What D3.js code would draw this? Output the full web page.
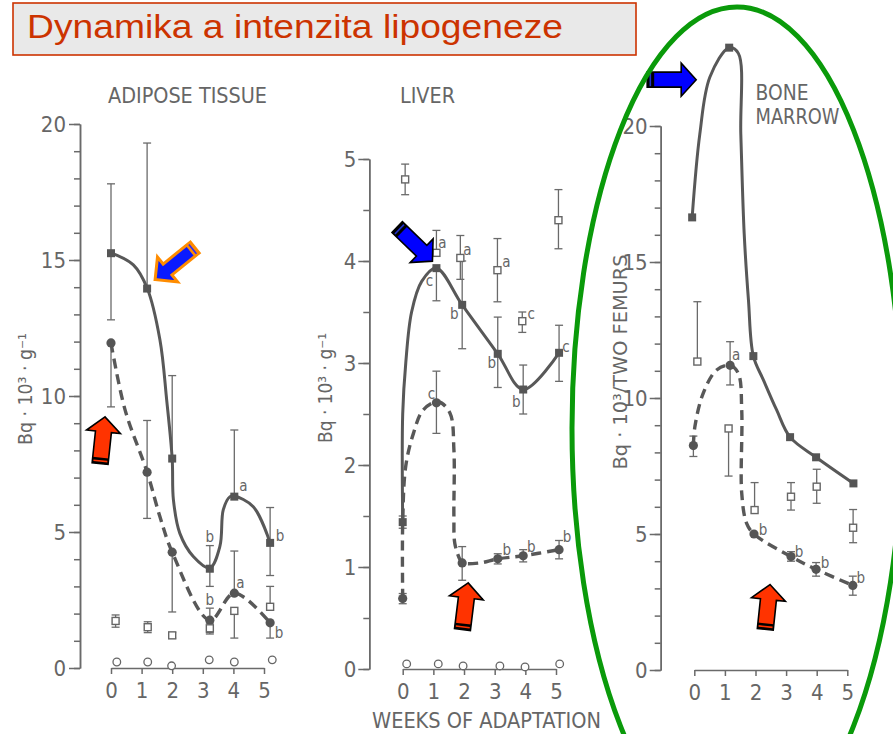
<!DOCTYPE html>
<html><head><meta charset="utf-8">
<script src="https://cdn.jsdelivr.net/npm/d3@7"></script>
<style>body{margin:0;background:#fff;}svg{display:block;}</style>
</head><body>
<svg id="c" width="893" height="734"></svg>
<script>
// ================= DATA =================
const weekTicks = [0, 1, 2, 3, 4, 5];
const tagsTitle = "Dynamika a intenzita lipogeneze";

// ---- Adipose tissue (Bq·10^3·g^-1) ----
const adiMajor = [0, 5, 10, 15, 20];
const adiMinor = d3.range(0, 21, 1);
const adiX      = [0.0, 1.18, 2.0, 3.23, 4.03, 5.2];
const adiSolid   = [15.25, 13.95, 7.7, 3.65, 6.3, 4.6];
const adiSolidHi = [17.8, 19.3, 10.75, 4.5, 8.75, 5.9];
const adiSolidLo = [12.8, null, null, 3.0, null, 3.4];
const adiSolidTag = [null, null, null, "b", "a", "b"];
const adiDash   = [11.95, 7.2, 4.26, 1.76, 2.75, 1.66];
const adiDashHi = [null, 9.1, null, 2.2, 4.3, null];
const adiDashLo = [9.6, 5.5, 2.06, 1.3, null, 1.1];
const adiDashTag = [null, null, null, "b", "a", "b"];
const adiSqX  = [0.15, 1.2, 2.0, 3.23, 4.03, 5.2];
const adiSq   = [1.73, 1.5, 1.2, 1.46, 2.1, 2.25];
const adiSqHi = [1.95, 1.7, 1.3, 1.65, null, 3.0];
const adiSqLo = [1.5, 1.3, 1.1, 1.25, 1.1, null];
const adiCircX = [0.19, 1.2, 1.98, 3.21, 4.03, 5.27];
const adiCirc  = [0.22, 0.22, 0.08, 0.3, 0.22, 0.3];
// drawn fitted curves (knots)
const adiSolidCurveX = [0, 0.73, 1.18, 1.6, 1.82, 2.0, 2.04, 2.25, 2.69, 3.23, 3.56, 3.67, 3.89, 4.03, 4.65, 5.2];
const adiSolidCurveY = [15.26, 14.82, 13.97, 12.06, 9.85, 7.68, 6.18, 4.95, 4.1, 3.68, 4.48, 5.82, 6.3, 6.32, 5.93, 4.6];
const adiDashCurveX = [0, 0.46, 1.18, 1.6, 2.0, 3.23, 4.03, 5.2];
const adiDashCurveY = [11.95, 9.49, 7.2, 5.56, 4.26, 1.76, 2.75, 1.66];

// ---- Liver (Bq·10^3·g^-1) ----
const livMajor = [0, 1, 2, 3, 4, 5];
const livMinor = d3.range(0, 5.01, 0.5);
const livX      = [0.0, 1.1, 1.94, 3.1, 3.93, 5.1];
const livSolid   = [1.44, 3.93, 3.57, 3.09, 2.74, 3.1];
const livSolidHi = [1.5, null, 4.0, 3.45, 2.98, 3.37];
const livSolidLo = [1.38, 3.61, 3.14, 2.76, 2.5, 2.82];
const livSolidTag = [null, "c", "b", "b", "b", "c"];
const livDash   = [0.69, 2.61, 1.04, 1.08, 1.11, 1.17];
const livDashHi = [0.74, 2.92, 1.2, 1.13, 1.17, 1.26];
const livDashLo = [0.64, 2.31, 0.87, 1.03, 1.05, 1.08];
const livDashTag = [null, "c", null, "b", "b", "b"];
const livSqX  = [0.08, 1.1, 1.88, 3.09, 3.9, 5.08];
const livSq   = [4.8, 4.08, 4.03, 3.91, 3.41, 4.4];
const livSqHi = [4.95, 4.3, 4.25, 4.22, 3.5, 4.7];
const livSqLo = [4.65, null, 3.82, 3.6, 3.3, 4.12];
const livSqTag = [null, "a", "a", "a", "c", null];
const livCircX = [0.13, 1.16, 1.97, 3.17, 3.99, 5.12];
const livCirc  = [0.05, 0.05, 0.03, 0.03, 0.02, 0.05];
const livSolidCurveX = [0, 0, 0.1, 0.29, 0.62, 1.1, 1.94, 3.1, 3.93, 5.1];
const livSolidCurveY = [1.44, 2.5, 3.0, 3.5, 3.8, 3.93, 3.57, 3.09, 2.74, 3.1];
const livDashCurveX = [0, 0, 0.1, 0.35, 0.67, 1.16, 1.54, 1.67, 1.67, 1.7, 1.87, 1.94, 2.52, 3.1, 3.93, 5.1];
const livDashCurveY = [0.69, 1.44, 1.99, 2.31, 2.54, 2.62, 2.51, 2.15, 1.5, 1.23, 1.07, 1.04, 1.04, 1.08, 1.11, 1.17];

// ---- Bone marrow (Bq·10^3 / two femurs) ----
const bmMajor = [0, 5, 10, 15, 20];
const bmMinor = d3.range(0, 21, 1);
const bmSolidX = [-0.07, 1.14, 1.93, 3.13, 3.98, 5.2];
const bmSolid  = [16.64, 22.88, 11.54, 8.56, 7.82, 6.86];
const bmDashX  = [-0.03, 1.17, 1.95, 3.16, 3.98, 5.18];
const bmDash   = [8.25, 11.2, 5.0, 4.17, 3.7, 3.11];
const bmDashHi = [8.6, 12.07, null, 4.35, 3.95, 3.45];
const bmDashLo = [7.85, 10.48, null, 4.0, 3.45, 2.75];
const bmDashTag = [null, "a", "b", "b", "b", "b"];
const bmSqX  = [0.1, 1.12, 1.97, 3.16, 4.0, 5.19];
const bmSq   = [11.34, 8.88, 5.88, 6.37, 6.74, 5.23];
const bmSqHi = [13.54, null, 6.89, 6.89, 7.38, 5.9];
const bmSqLo = [null, 7.13, null, 5.88, 6.13, 4.68];
const bmSolidCurveX = [-0.07, 0.18, 0.51, 1.14, 1.44, 1.52, 1.63, 1.77, 1.93, 2.26, 2.69, 3.13, 3.98, 5.2];
const bmSolidCurveY = [16.64, 19.7, 21.8, 22.88, 22.67, 19.7, 16.05, 13.6, 11.54, 10.66, 9.56, 8.56, 7.82, 6.86];
const bmDashCurveX = [-0.03, 0.02, 0.29, 0.73, 1.17, 1.44, 1.55, 1.55, 1.71, 1.95, 3.16, 3.98, 5.18];
const bmDashCurveY = [8.25, 8.95, 10.17, 11.03, 11.2, 10.9, 9.56, 6.5, 5.39, 5.0, 4.17, 3.7, 3.11];

// ================= RENDERING =================
const svg = d3.select("#c");
const F = "'DejaVu Sans Condensed','DejaVu Sans',sans-serif";
const AX = "#6a6a6a", TXT = "#666", LN = "#585858";
const fmt = d3.format("~g");

function makePanel(p) {
  const x = d3.scaleLinear().domain([0, 5]).range(p.xRange);
  const y = d3.scaleLinear().domain([0, p.yMax]).range(p.yRange);
  const g = svg.append("g");
  const a1 = g.append("g").attr("transform", `translate(${p.axisX},0)`)
    .call(d3.axisLeft(y).tickValues(p.minor).tickSize(6).tickFormat("").tickSizeOuter(0));
  const a2 = g.append("g").attr("transform", `translate(${p.axisX},0)`)
    .call(d3.axisLeft(y).tickValues(p.major).tickSize(11).tickPadding(p.pad).tickFormat(fmt).tickSizeOuter(0));
  const a3 = g.append("g").attr("transform", `translate(0,${y(0)})`)
    .call(d3.axisBottom(x).tickValues(weekTicks).tickSize(6).tickPadding(8).tickFormat(fmt).tickSizeOuter(0));
  [a1, a2, a3].forEach(a => {
    a.selectAll("path,line").attr("stroke", AX).attr("stroke-width", 1.5);
    a.selectAll("text").attr("font-family", F).attr("font-size", 22).attr("fill", TXT);
  });
  return { g, x, y };
}

function curve(P, kx, ky, dashed) {
  const pts = kx.map((v, i) => [v, ky[i]]);
  const line = d3.line().x(d => P.x(d[0])).y(d => P.y(d[1])).curve(d3.curveCatmullRom.alpha(0.5));
  P.g.append("path").attr("d", line(pts)).attr("fill", "none").attr("stroke", LN)
    .attr("stroke-width", dashed ? 3.4 : 3).attr("stroke-dasharray", dashed ? "10,6" : null);
}

function errBars(P, xs, ys, hi, lo) {
  const eg = P.g.append("g").attr("stroke", "#6a6a6a").attr("stroke-width", 1.3);
  xs.forEach((xv, i) => {
    [hi ? hi[i] : null, lo ? lo[i] : null].forEach(e => {
      if (e == null) return;
      const px = P.x(xv);
      eg.append("line").attr("x1", px).attr("x2", px).attr("y1", P.y(ys[i])).attr("y2", P.y(e));
      eg.append("line").attr("x1", px - 4).attr("x2", px + 4).attr("y1", P.y(e)).attr("y2", P.y(e));
    });
  });
}

function markers(P, xs, ys, kind) {
  const mg = P.g.append("g");
  xs.forEach((xv, i) => {
    const px = P.x(xv), py = P.y(ys[i]);
    if (kind === "fsq") mg.append("rect").attr("x", px - 4).attr("y", py - 4).attr("width", 8).attr("height", 8).attr("fill", "#555");
    if (kind === "fci") mg.append("circle").attr("cx", px).attr("cy", py).attr("r", 4.6).attr("fill", "#555");
    if (kind === "osq") mg.append("rect").attr("x", px - 3.5).attr("y", py - 3.5).attr("width", 7).attr("height", 7).attr("fill", "#fff").attr("stroke", "#666").attr("stroke-width", 1.4);
    if (kind === "oci") mg.append("circle").attr("cx", px).attr("cy", py).attr("r", 3.8).attr("fill", "#fff").attr("stroke", "#666").attr("stroke-width", 1.3);
  });
}

function tags(P, xs, ys, tg, offs) {
  xs.forEach((xv, i) => {
    if (!tg[i]) return;
    P.g.append("text").attr("x", P.x(xv) + offs[i][0]).attr("y", P.y(ys[i]) + offs[i][1])
      .attr("text-anchor", "middle").attr("dominant-baseline", "central")
      .attr("font-family", F).attr("font-size", 15).attr("fill", TXT).text(tg[i]);
  });
}

function label(txt, x, y, size, opts = {}) {
  const t = svg.append("text").attr("x", x).attr("y", y).attr("font-family", F).attr("font-size", size)
    .attr("fill", TXT).attr("text-anchor", opts.anchor || "middle").text(txt);
  if (opts.rotate) t.attr("transform", `rotate(-90,${x},${y})`);
  if (opts.len) t.attr("textLength", opts.len).attr("lengthAdjust", "spacingAndGlyphs");
  return t;
}

// ---------- Panel 1: adipose ----------
const A = makePanel({ xRange: [111, 264], yMax: 20, yRange: [668, 124], axisX: 80, major: adiMajor, minor: adiMinor, pad: 3 });
errBars(A, adiX, adiSolid, adiSolidHi, adiSolidLo);
errBars(A, adiX, adiDash, adiDashHi, adiDashLo);
errBars(A, adiSqX, adiSq, adiSqHi, adiSqLo);
curve(A, adiSolidCurveX, adiSolidCurveY, false);
curve(A, adiDashCurveX, adiDashCurveY, true);
markers(A, adiX, adiSolid, "fsq");
markers(A, adiX, adiDash, "fci");
markers(A, adiSqX, adiSq, "osq");
markers(A, adiCircX, adiCirc, "oci");
tags(A, adiX, adiSolid, adiSolidTag, [0, 0, 0, [0, -32], [9, -11], [10, -7]]);
tags(A, adiX, adiDash, adiDashTag, [0, 0, 0, [0, -20], [6, -10], [9, 10]]);
label("ADIPOSE TISSUE", 187.5, 103, 22, { len: 159 });
label("Bq · 10³ · g⁻¹", 32, 389, 19, { rotate: true, len: 112 });

// ---------- Panel 2: liver ----------
const L = makePanel({ xRange: [402.7, 556], yMax: 5, yRange: [669, 159], axisX: 369.3, major: livMajor, minor: livMinor, pad: 2 });
errBars(L, livX, livSolid, livSolidHi, livSolidLo);
errBars(L, livX, livDash, livDashHi, livDashLo);
errBars(L, livSqX, livSq, livSqHi, livSqLo);
curve(L, livSolidCurveX, livSolidCurveY, false);
curve(L, livDashCurveX, livDashCurveY, true);
markers(L, livX, livSolid, "fsq");
markers(L, livX, livDash, "fci");
markers(L, livSqX, livSq, "osq");
markers(L, livCircX, livCirc, "oci");
tags(L, livX, livSolid, livSolidTag, [0, [-7, 13], [-8, 9], [-6, 9], [-7, 12], [7, -6]]);
tags(L, livX, livDash, livDashTag, [0, [-5, -9], 0, [9, -9], [8, -9], [8, -13]]);
tags(L, livSqX, livSq, livSqTag, [0, [6, -10], [7, -8], [9, -8], [9, -7], 0]);
label("LIVER", 427.5, 103, 22, { len: 55 });
label("Bq · 10³ · g⁻¹", 332, 388, 19, { rotate: true, len: 110 });
label("WEEKS OF ADAPTATION", 372, 728, 22, { anchor: "start", len: 229 });

// ---------- Panel 3: bone marrow ----------
const B = makePanel({ xRange: [694.3, 847.3], yMax: 20, yRange: [670, 126], axisX: 660.7, major: bmMajor, minor: bmMinor, pad: 2 });
errBars(B, bmDashX, bmDash, bmDashHi, bmDashLo);
errBars(B, bmSqX, bmSq, bmSqHi, bmSqLo);
curve(B, bmSolidCurveX, bmSolidCurveY, false);
curve(B, bmDashCurveX, bmDashCurveY, true);
markers(B, bmSolidX, bmSolid, "fsq");
markers(B, bmDashX, bmDash, "fci");
markers(B, bmSqX, bmSq, "osq");
tags(B, bmDashX, bmDash, bmDashTag, [0, [6, -10], [9, -4], [8, -5], [9, -6], [8, -7]]);
label("BONE", 755.5, 100, 22, { anchor: "start", len: 53 });
label("MARROW", 755.5, 124, 22, { anchor: "start", len: 84 });
label("Bq · 10³/TWO FEMURS", 627, 362, 19, { rotate: true, len: 215 });

// ---------- block arrows ----------
function arrow(tx, ty, angle, o) {
  const Ln = o.len, hl = o.headLen, hw = o.headW / 2, bw = o.bodyW / 2;
  const pts = [[0, 0], [-hl, -hw], [-hl, -bw], [-Ln, -bw], [-Ln, bw], [-hl, bw], [-hl, hw]];
  const a = svg.append("g").attr("transform", `translate(${tx},${ty}) rotate(${angle})`);
  a.append("path").attr("d", "M" + pts.join("L") + "Z").attr("fill", o.fill)
    .attr("stroke", o.stroke).attr("stroke-width", o.sw).attr("stroke-linejoin", "miter");
  a.append("rect").attr("x", -Ln).attr("y", -bw).attr("width", o.band).attr("height", 2 * bw).attr("fill", o.bandFill);
  a.append("line").attr("x1", -Ln + o.band * 0.45).attr("x2", -Ln + o.band * 0.45).attr("y1", -bw + 1).attr("y2", bw - 1)
    .attr("stroke", o.stripe).attr("stroke-width", 1.6);
}
const blueA = { len: 51, headLen: 16, headW: 32, bodyW: 14, fill: "#0a1aff", stroke: "#ff8c00", sw: 3, band: 6, bandFill: "#ff8c00", stripe: "#2a2aff" };
const blue = { len: 49, headLen: 15, headW: 33, bodyW: 15, fill: "#0000ff", stroke: "#000", sw: 1.6, band: 7, bandFill: "#000", stripe: "#2233cc" };
const red = { len: 47, headLen: 15, headW: 34, bodyW: 16, fill: "#ff3300", stroke: "#000", sw: 1.6, band: 6, bandFill: "#000", stripe: "#ff3300" };
arrow(A.x(adiX[1]) + 8, A.y(adiSolid[1]) - 9, 141, blueA);
arrow(A.x(adiX[0]) - 6, A.y(adiDashLo[0]) + 10, -84, red);
arrow(L.x(livX[1]) - 4, L.y(livSolid[1]) - 7, 44, blue);
arrow(L.x(livX[2]) + 6, L.y(livDash[2]) + 20, -83, red);
arrow(B.x(bmSolidX[1]) - 33, B.y(bmSolid[1]) + 32, 0, blue);
arrow(B.x(bmDashX[3]) - 21, B.y(bmDash[3]) + 28, -84, { ...red, len: 45 });

// ---------- title box ----------
svg.append("rect").attr("x", 13).attr("y", 3).attr("width", 623).attr("height", 52)
  .attr("fill", "#e9e9e9").attr("stroke", "#cc3300").attr("stroke-width", 1.6);
svg.append("text").attr("x", 27).attr("y", 38).attr("font-family", "'Liberation Sans',Arial,sans-serif")
  .attr("font-size", 33).attr("fill", "#cc3300").attr("textLength", 536).attr("lengthAdjust", "spacingAndGlyphs").text(tagsTitle);

// ---------- green ellipse ----------
svg.append("ellipse").attr("cx", 737).attr("cy", 428).attr("rx", 165).attr("ry", 421)
  .attr("fill", "none").attr("stroke", "#0a9a0a").attr("stroke-width", 5);
</script>
</body></html>
